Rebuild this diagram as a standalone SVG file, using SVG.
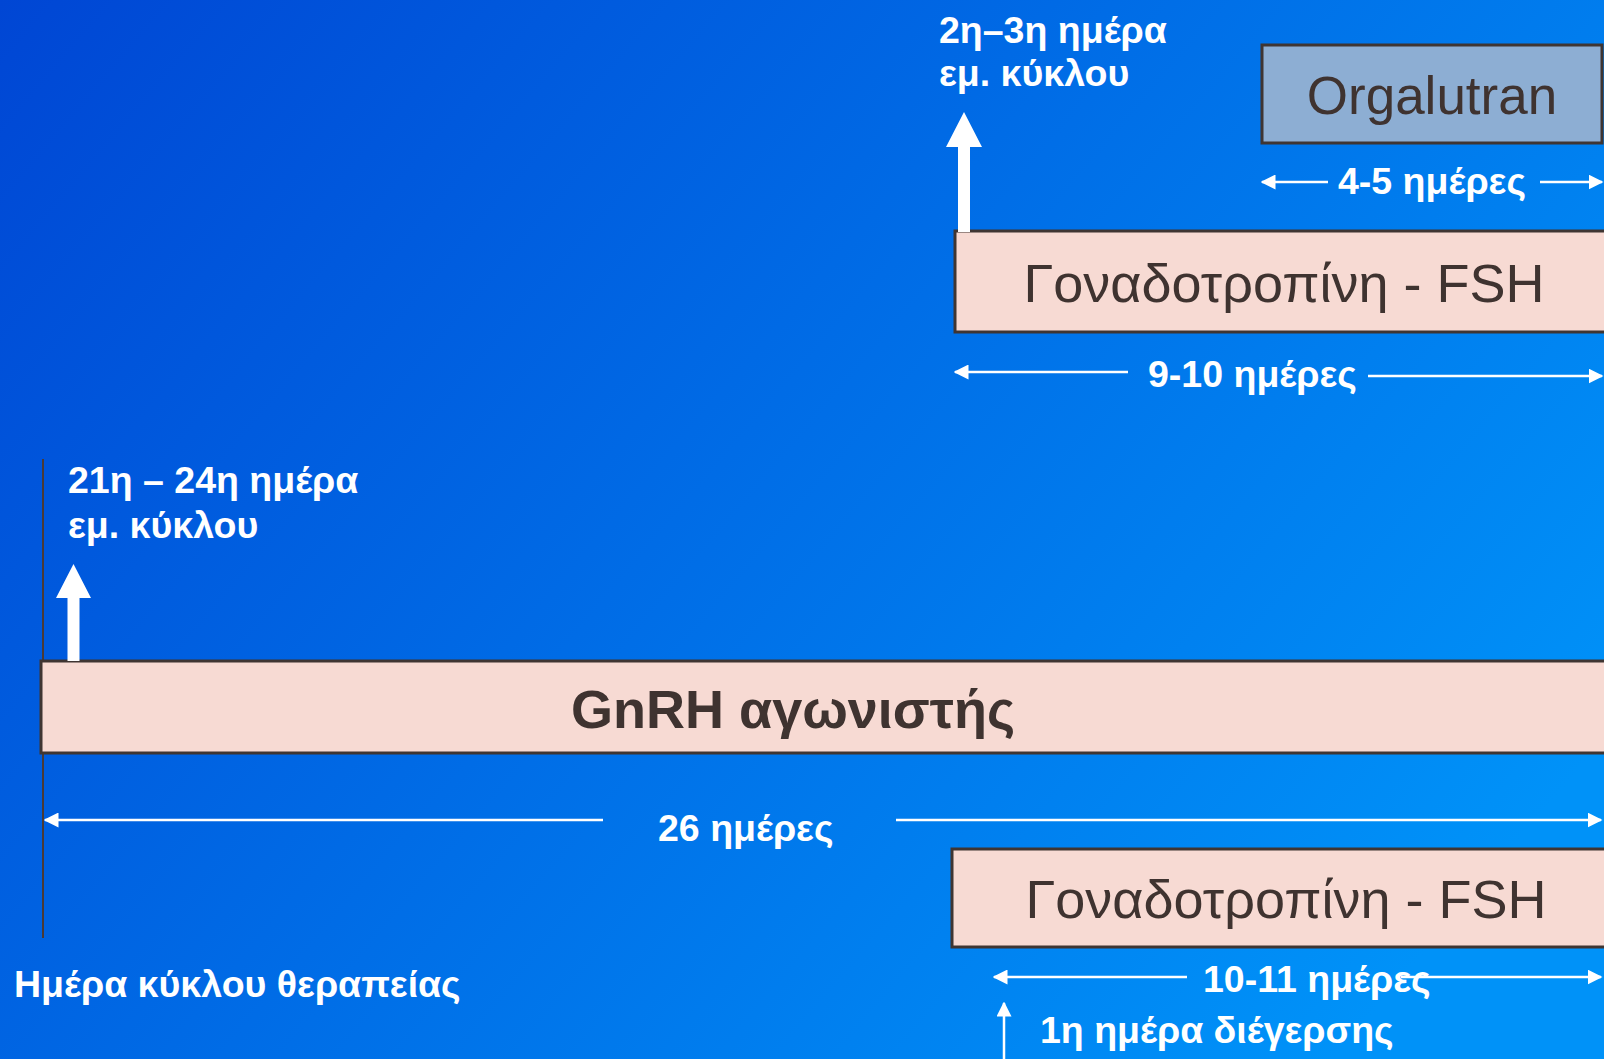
<svg xmlns="http://www.w3.org/2000/svg" width="1604" height="1059" viewBox="0 0 1604 1059">
  <defs>
    <linearGradient id="bg" gradientUnits="userSpaceOnUse" x1="0" y1="0" x2="1300" y2="1100">
      <stop offset="0" stop-color="#0046D4"/>
      <stop offset="1" stop-color="#0092F8"/>
    </linearGradient>
    <marker id="head" viewBox="0 0 10 10" refX="9" refY="5" markerWidth="6" markerHeight="6" markerUnits="strokeWidth" orient="auto-start-reverse">
      <path d="M0,0 L10,5 L0,10 z" fill="#ffffff"/>
    </marker>
    <style>
      .box { fill: #F7DAD3; stroke: #3F3532; stroke-width: 3; }
      .boxblue { fill: #8DAED3; stroke: #3F3532; stroke-width: 3; }
      .boxtext { font-family: "Liberation Sans", Arial, sans-serif; fill: #3F3330; text-anchor: middle; }
      .lbl { font-family: "Liberation Sans", Arial, sans-serif; font-weight: bold; font-size: 37.5px; fill: #ffffff; }
      .dim { stroke: #ffffff; stroke-width: 2.5; fill: none; }
      .bigarrow { fill: #ffffff; }
    </style>
  </defs>

  <rect x="0" y="0" width="1604" height="1059" fill="url(#bg)"/>

  <!-- timeline start marker -->
  <line x1="43" y1="459" x2="43" y2="938" stroke="#4A3A36" stroke-width="2"/>

  <g id="gnrh">
    <rect class="box" x="41" y="661" width="1566" height="92"/>
    <text class="boxtext" x="793" y="728" font-size="54" font-weight="bold">GnRH αγωνιστής</text>
  </g>

  <g id="fsh-top">
    <rect class="box" x="955" y="231" width="652" height="101"/>
    <text class="boxtext" x="1284" y="302" font-size="54">Γοναδοτροπίνη - FSH</text>
  </g>

  <g id="orgalutran">
    <rect class="boxblue" x="1262" y="45" width="340" height="98"/>
    <text class="boxtext" x="1432" y="114" font-size="53">Orgalutran</text>
  </g>

  <g id="fsh-bottom">
    <rect class="box" x="952" y="849" width="655" height="98"/>
    <text class="boxtext" x="1286" y="918" font-size="54">Γοναδοτροπίνη - FSH</text>
  </g>

  <g id="connectors">
    <!-- start-day arrows -->
    <polygon class="bigarrow" points="67.5,661 79.5,661 79.5,598 91,598 73.5,564 56,598 67.5,598"/>
    <polygon class="bigarrow" points="958,232 970,232 970,147 982,147 964,112 946,147 958,147"/>
    <line class="dim" x1="1004" y1="1059" x2="1004" y2="1003" marker-end="url(#head)"/>

    <!-- durations -->
    <line class="dim" x1="1328" y1="182" x2="1262" y2="182" marker-end="url(#head)"/>
    <line class="dim" x1="1540" y1="182" x2="1602" y2="182" marker-end="url(#head)"/>

    <line class="dim" x1="1128" y1="372" x2="955" y2="372" marker-end="url(#head)"/>
    <line class="dim" x1="1368" y1="376" x2="1602" y2="376" marker-end="url(#head)"/>

    <line class="dim" x1="603" y1="820" x2="45" y2="820" marker-end="url(#head)"/>
    <line class="dim" x1="896" y1="820" x2="1601" y2="820" marker-end="url(#head)"/>

    <line class="dim" x1="1187" y1="977" x2="994" y2="977" marker-end="url(#head)"/>
    <line class="dim" x1="1401" y1="977" x2="1601" y2="977" marker-end="url(#head)"/>
  </g>

  <g id="labels">
    <text class="lbl" x="939" y="43">2η–3η ημέρα</text>
    <text class="lbl" x="939" y="86">εμ. κύκλου</text>
    <text class="lbl" x="68" y="493">21η – 24η ημέρα</text>
    <text class="lbl" x="68" y="538">εμ. κύκλου</text>
    <text class="lbl" x="1338" y="194">4-5 ημέρες</text>
    <text class="lbl" x="1148" y="387">9-10 ημέρες</text>
    <text class="lbl" x="658" y="841">26 ημέρες</text>
    <text class="lbl" x="1203" y="992">10-11 ημέρες</text>
    <text class="lbl" x="1040" y="1043">1η ημέρα διέγερσης</text>
    <text class="lbl" x="14" y="997">Ημέρα κύκλου θεραπείας</text>
  </g>
</svg>
